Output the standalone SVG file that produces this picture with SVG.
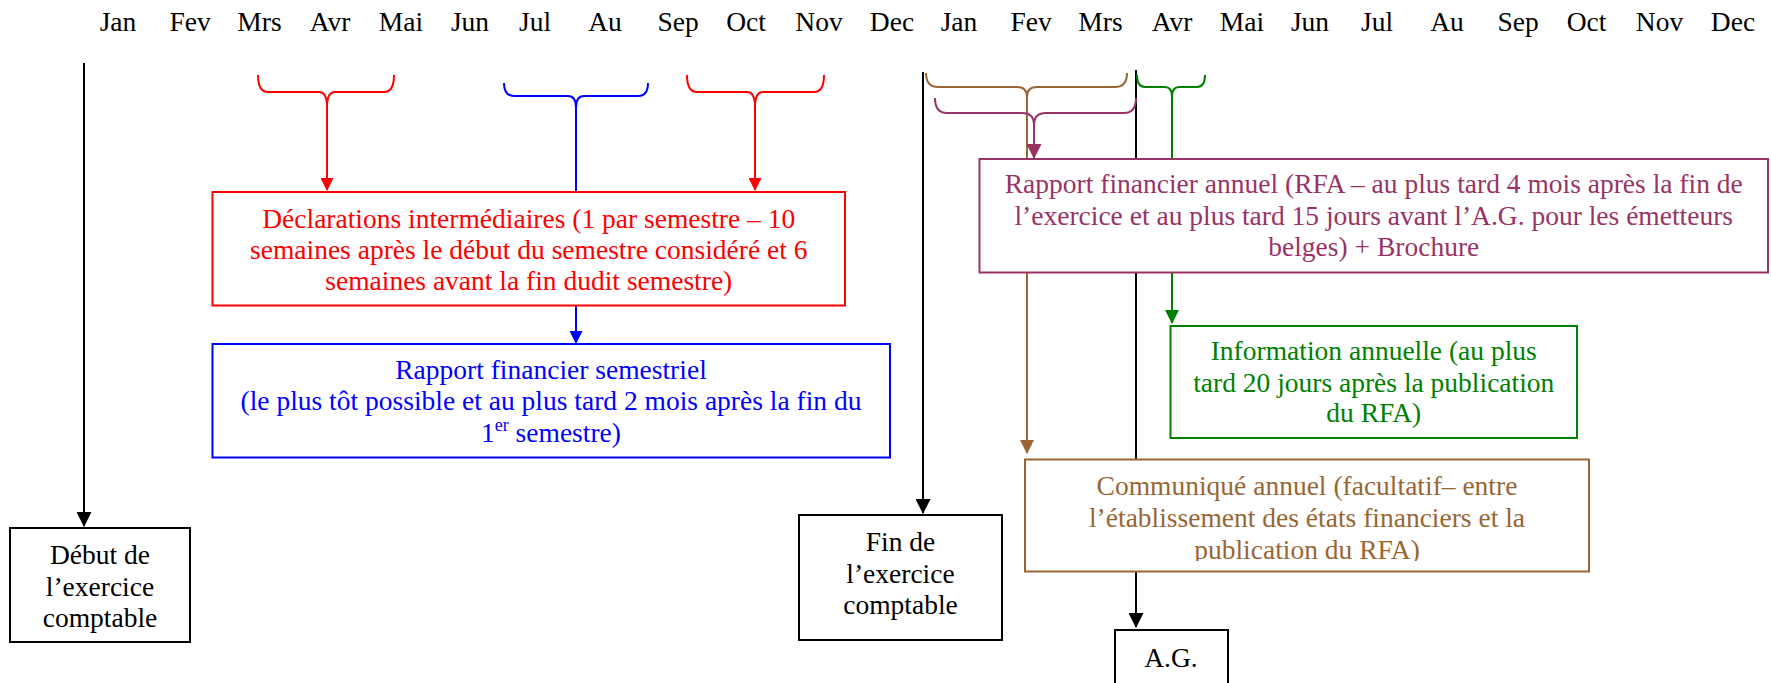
<svg xmlns="http://www.w3.org/2000/svg" width="1771" height="683" viewBox="0 0 1771 683">
<style>
text{font-family:"Liberation Serif","Times New Roman",serif;font-size:27.5px;text-anchor:middle}
.m{fill:#000}
.box{fill:#fff;stroke-width:2}
.br{fill:none;stroke-width:2}
.ln{fill:none;stroke-width:2}
.k{stroke:#000}.kt{fill:#000}
.r{stroke:#ff0000}.rt{fill:#ff0000}
.b{stroke:#0000ff}.bt{fill:#0000ff}
.g{stroke:#008000}.gt{fill:#008000}
.n{stroke:#996633}.nt{fill:#996633}
.p{stroke:#993366}.pt{fill:#993366}
</style>
<defs>
<marker id="ak" markerWidth="15" markerHeight="15" refX="14" refY="7.5" orient="auto" markerUnits="userSpaceOnUse"><path d="M0,0 L15,7.5 L0,15 z" fill="#000"/></marker>
<marker id="ar" markerWidth="13" markerHeight="13" refX="12" refY="6.5" orient="auto" markerUnits="userSpaceOnUse"><path d="M0,0 L13,6.5 L0,13 z" fill="#ff0000"/></marker>
<marker id="ab" markerWidth="13" markerHeight="13" refX="12" refY="6.5" orient="auto" markerUnits="userSpaceOnUse"><path d="M0,0 L13,6.5 L0,13 z" fill="#0000ff"/></marker>
<marker id="ag" markerWidth="14" markerHeight="14" refX="13" refY="7" orient="auto" markerUnits="userSpaceOnUse"><path d="M0,0 L14,7 L0,14 z" fill="#008000"/></marker>
<marker id="an" markerWidth="14" markerHeight="14" refX="13" refY="7" orient="auto" markerUnits="userSpaceOnUse"><path d="M0,0 L14,7 L0,14 z" fill="#996633"/></marker>
<marker id="ap" markerWidth="15" markerHeight="15" refX="14" refY="7.5" orient="auto" markerUnits="userSpaceOnUse"><path d="M0,0 L15,7.5 L0,15 z" fill="#993366"/></marker>
<clipPath id="cc"><rect x="1025" y="459" width="564" height="102"/></clipPath>
</defs>

<g id="months" class="m">
<text x="118" y="31">Jan</text>
<text x="190" y="31">Fev</text>
<text x="259.5" y="31">Mrs</text>
<text x="330" y="31">Avr</text>
<text x="401" y="31">Mai</text>
<text x="470" y="31">Jun</text>
<text x="535" y="31">Jul</text>
<text x="605" y="31">Au</text>
<text x="678" y="31">Sep</text>
<text x="746" y="31">Oct</text>
<text x="819" y="31">Nov</text>
<text x="892" y="31">Dec</text>
<text x="959" y="31">Jan</text>
<text x="1031" y="31">Fev</text>
<text x="1100.5" y="31">Mrs</text>
<text x="1172" y="31">Avr</text>
<text x="1242" y="31">Mai</text>
<text x="1310" y="31">Jun</text>
<text x="1377" y="31">Jul</text>
<text x="1447" y="31">Au</text>
<text x="1518" y="31">Sep</text>
<text x="1586.5" y="31">Oct</text>
<text x="1659.5" y="31">Nov</text>
<text x="1733" y="31">Dec</text>
</g>

<g id="connectors">
<!-- black timeline lines -->
<line class="ln k" x1="84" y1="63" x2="84" y2="526" marker-end="url(#ak)"/>
<line class="ln k" x1="923" y1="72" x2="923" y2="513" marker-end="url(#ak)"/>
<line class="ln k" x1="1136" y1="70" x2="1136" y2="627" marker-end="url(#ak)"/>
<!-- red brace 1 -->
<path class="br r" d="M258,75 Q258,92 268,92 L319,92 Q327,92 327,107 Q327,92 335,92 L384,92 Q394,92 394,75"/>
<line class="ln r" x1="327" y1="104" x2="327" y2="190" marker-end="url(#ar)"/>
<!-- blue brace -->
<path class="br b" d="M504,83 Q504,96 514,96 L568,96 Q576,96 576,108 Q576,96 584,96 L638,96 Q648,96 648,83"/>
<line class="ln b" x1="576" y1="105" x2="576" y2="343" marker-end="url(#ab)"/>
<!-- red brace 2 -->
<path class="br r" d="M687,75 Q687,92 697,92 L747,92 Q755,92 755,107 Q755,92 763,92 L814,92 Q824,92 824,75"/>
<line class="ln r" x1="755" y1="104" x2="755" y2="190" marker-end="url(#ar)"/>
<!-- brown brace -->
<path class="br n" d="M926,73 Q926,87 938,87 L1017,87 Q1027,87 1027,97 Q1027,87 1037,87 L1115,87 Q1127,87 1127,73"/>
<line class="ln n" x1="1027" y1="95" x2="1027" y2="453" marker-end="url(#an)"/>
<!-- purple brace -->
<path class="br p" d="M935,98 Q935,113 947,113 L1022,113 Q1034,113 1034,125 Q1034,113 1046,113 L1124,113 Q1136,113 1136,98"/>
<line class="ln p" x1="1034" y1="123" x2="1034" y2="158" marker-end="url(#ap)"/>
<!-- green brace -->
<path class="br g" d="M1137,75 Q1137,87 1145,87 L1165,87 Q1172,87 1172,97 Q1172,87 1179,87 L1197,87 Q1205,87 1205,75"/>
<line class="ln g" x1="1172" y1="95" x2="1172" y2="323" marker-end="url(#ag)"/>
</g>

<g id="debut">
<rect class="box k" x="10" y="528" width="180" height="114"/>
<text class="kt" x="100" y="564">Début de</text>
<text class="kt" x="100" y="596">l’exercice</text>
<text class="kt" x="100" y="627">comptable</text>
</g>

<g id="fin">
<rect class="box k" x="799" y="515" width="203" height="125"/>
<text class="kt" x="900.5" y="551">Fin de</text>
<text class="kt" x="900.5" y="583">l’exercice</text>
<text class="kt" x="900.5" y="614">comptable</text>
</g>

<g id="declarations">
<rect class="box r" x="212.5" y="192" width="632.5" height="113.5"/>
<text class="rt" x="528.75" y="228">Déclarations intermédiaires (1 par semestre – 10</text>
<text class="rt" x="528.75" y="259">semaines après le début du semestre considéré et 6</text>
<text class="rt" x="528.75" y="290">semaines avant la fin dudit semestre)</text>
</g>

<g id="semestriel">
<rect class="box b" x="212.5" y="344" width="677.5" height="113.5"/>
<text class="bt" x="551" y="379">Rapport financier semestriel</text>
<text class="bt" x="551" y="410">(le plus tôt possible et au plus tard 2 mois après la fin du</text>
<text class="bt" x="551" y="442">1<tspan font-size="18" dy="-11">er</tspan><tspan dy="11"> semestre)</tspan></text>
</g>

<g id="rfa">
<rect class="box p" x="979.5" y="159" width="788.5" height="113.5"/>
<text class="pt" x="1373.75" y="193">Rapport financier annuel (RFA – au plus tard 4 mois après la fin de</text>
<text class="pt" x="1373.75" y="225">l’exercice et au plus tard 15 jours avant l’A.G. pour les émetteurs</text>
<text class="pt" x="1373.75" y="256">belges) + Brochure</text>
</g>

<g id="info">
<rect class="box g" x="1170.5" y="326" width="406.5" height="112"/>
<text class="gt" x="1373.75" y="360">Information annuelle (au plus</text>
<text class="gt" x="1373.75" y="392">tard 20 jours après la publication</text>
<text class="gt" x="1373.75" y="422">du RFA)</text>
</g>

<g id="communique">
<rect class="box n" x="1025" y="459.5" width="564" height="112"/>
<g clip-path="url(#cc)">
<text class="nt" x="1307" y="495">Communiqué annuel (facultatif– entre</text>
<text class="nt" x="1307" y="527">l’établissement des états financiers et la</text>
<text class="nt" x="1307" y="558.5">publication du RFA)</text>
</g>
</g>

<g id="ag">
<rect class="box k" x="1115" y="630" width="113" height="70"/>
<text class="kt" x="1171" y="667">A.G.</text>
</g>
</svg>
